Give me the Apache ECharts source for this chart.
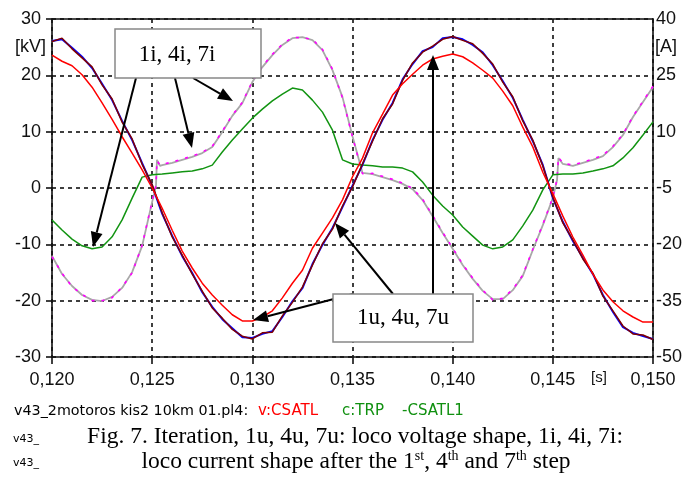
<!DOCTYPE html>
<html><head><meta charset="utf-8">
<script src="https://cdn.jsdelivr.net/npm/echarts@6/dist/echarts.min.js"></script>
<style>html,body{margin:0;padding:0;background:#fff;}#c{width:696px;height:477px;}</style>
</head><body><div id="c"></div>
<script>
// ---- data (time in s, voltage in kV, current in A) ----
const tGrid = [0.1200,0.1205,0.1210,0.1215,0.1220,0.1225,0.1230,0.1235,0.1240,0.1245,
  0.1250,0.1255,0.1260,0.1265,0.1270,0.1275,0.1280,0.1285,0.1290,0.1295,
  0.1300,0.1305,0.1310,0.1315,0.1320,0.1325,0.1330,0.1335,0.1340,0.1345,
  0.1350,0.1355,0.1360,0.1365,0.1370,0.1375,0.1380,0.1385,0.1390,0.1395,
  0.1400,0.1405,0.1410,0.1415,0.1420,0.1425,0.1430,0.1435,0.1440,0.1445,
  0.1450,0.1455,0.1460,0.1465,0.1470,0.1475,0.1480,0.1485,0.1490,0.1495,0.1500];
const tCur = [0.1200,0.1205,0.1210,0.1215,0.1220,0.1225,0.1230,0.1235,0.1240,0.1245,
  0.1250,0.12519,0.12524,0.12539,
  0.1255,0.1260,0.1265,0.1270,0.1275,0.1280,0.1285,0.1290,0.1295,0.1300,
  0.1305,0.1310,0.1315,0.1320,0.1325,0.1330,0.1335,0.1340,0.1345,0.1350,
  0.1355,0.1360,0.1365,0.1370,0.1375,0.1380,0.1385,0.1390,0.1395,0.1400,
  0.1405,0.1410,0.1415,0.1420,0.1425,0.1430,0.1435,0.1440,0.1445,0.1450,
  0.14521,0.14528,
  0.1455,0.1460,0.1465,0.1470,0.1475,0.1480,0.1485,0.1490,0.1495,0.1500];
// voltage 1u / 4u / 7u [kV]
const blueV = [26.1,26.4,24.9,23.3,21.3,18.5,15.6,11.9,8.5,4.4,
  0.4,-4.6,-8.5,-12.1,-15.1,-18.5,-21.1,-23.3,-24.9,-26.5,
  -26.6,-25.9,-25.4,-22.9,-20.1,-17.8,-13.5,-10.1,-7.1,-3.4,
  0.4,4.1,8.5,12.1,15.1,19.3,22.0,24.3,25.0,26.6,
  26.8,26.4,25.4,24.1,21.8,19.0,16.0,12.1,8.3,4.1,
  -1.8,-6.0,-9.4,-12.4,-15.3,-19.0,-22.0,-24.7,-25.7,-26.3,-26.8];
const brownV = [26.0,26.6,24.7,23.1,21.5,18.3,15.8,11.7,8.7,4.2,
  0.6,-4.4,-8.7,-11.9,-15.3,-18.3,-21.3,-23.1,-25.1,-26.3,
  -26.8,-25.7,-25.6,-22.7,-20.3,-17.6,-13.7,-9.9,-7.3,-3.2,
  0.2,4.3,8.3,12.3,14.9,19.1,22.2,24.1,25.2,26.4,
  26.9,26.2,25.6,23.9,22.0,18.8,16.2,11.9,8.5,3.9,
  -1.6,-6.2,-9.2,-12.6,-15.1,-19.2,-21.8,-24.5,-25.9,-26.1,-26.9];
const redV = [23.6,22.5,21.7,20.1,17.9,15.1,12.2,9.1,6.2,3.2,
  0.0,-3.6,-7.5,-11.2,-14.2,-16.9,-19.0,-20.8,-22.5,-23.6,
  -23.6,-22.9,-21.8,-19.5,-16.9,-14.6,-10.7,-8.0,-5.3,-2.1,
  2.0,5.3,9.8,13.1,16.5,18.5,20.2,21.8,22.9,23.4,
  23.8,23.3,22.2,20.9,19.5,17.2,14.6,10.8,7.3,2.8,
  -1.0,-5.0,-8.7,-11.9,-15.3,-18.1,-20.2,-21.8,-22.9,-23.8,-23.8];
// current 1i / 4i / 7i [A]
const grayA = [-23.1,-27.9,-31.1,-33.5,-34.8,-35.1,-34.0,-31.6,-27.4,-20.4,
  -8.7,-4.5,2.5,0.9,
  1.1,1.7,2.5,3.3,4.3,5.9,9.9,14.2,17.6,23.2,
  27.2,30.4,33.1,34.9,35.2,34.4,31.7,26.4,19.2,8.8,
  -1.0,-1.3,-2.1,-2.9,-3.9,-5.3,-8.2,-12.5,-17.0,-21.2,
  -25.5,-29.2,-32.4,-34.6,-34.6,-32.2,-28.4,-21.5,-14.9,-7.7,
  -2.9,3.0,
  1.4,0.9,1.7,2.5,3.5,5.9,9.1,13.9,17.9,21.9];
const magentaA = [-23.3,-27.7,-31.3,-33.3,-35.0,-35.0,-34.2,-31.4,-27.6,-20.2,
  -8.5,-4.3,2.3,1.1,
  1.3,1.9,2.7,3.5,4.5,6.1,10.1,14.4,17.8,23.4,
  27.4,30.6,33.3,35.1,35.0,34.6,31.9,26.6,19.0,8.6,
  -1.2,-1.1,-1.9,-2.7,-3.7,-5.1,-8.0,-12.3,-16.8,-21.0,
  -25.3,-29.0,-32.2,-34.8,-34.4,-32.0,-28.2,-21.3,-14.7,-7.5,
  -2.7,3.2,
  1.6,1.1,1.9,2.7,3.7,6.1,9.3,14.1,18.1,22.1];
const greenA = [-13.5,-16.2,-18.6,-20.4,-21.2,-20.7,-18.0,-13.5,-7.7,-2.1,
  -1.5,-1.3,-1.0,-0.7,-0.5,0.1,1.1,4.6,7.8,10.7,
  13.6,16.0,18.2,20.0,21.6,21.1,18.4,15.2,10.4,2.5,
  1.4,1.1,0.9,0.6,0.6,0.3,-0.7,-3.4,-6.9,-9.8,
  -12.2,-15.4,-17.8,-20.2,-21.2,-20.7,-18.8,-15.1,-10.9,-5.5,
  -1.5,-1.3,-1.3,-1.0,-0.5,0.1,0.9,3.0,5.7,9.1,12.6];
// axis ranges
const xRange = [0.120, 0.150, 0.005];
const vRange = [-30, 30, 10];
const aRange = [-50, 40, 15];
// texts
const legendParts = [
  {text: 'v43_2motoros kis2 10km 01.pl4:', color: '#000'},
  {text: 'v:CSATL', color: '#ff0000'},
  {text: 'c:TRP', color: '#109010'},
  {text: '-CSATL1', color: '#109010'}
];
const captionLine1 = 'Fig. 7. Iteration, 1u, 4u, 7u: loco voltage shape, 1i, 4i, 7i:';
const captionLine2 = 'loco current shape after the 1{sup|st}, 4{sup|th} and 7{sup|th} step';
const box1Text = '1i, 4i, 7i';
const box2Text = '1u, 4u, 7u';

// ---- chart ----
const pairs = (ts, vs) => ts.map((t, i) => [t, vs[i]]);
const sans = "'Liberation Sans',Arial,sans-serif";
const serif = "'Liberation Serif','Times New Roman',serif";
const chart = echarts.init(document.getElementById('c'), null, {renderer: 'canvas'});

const G = {left: 52, top: 19, width: 601, height: 338};
const dash = {color: '#111', width: 1.6, type: [4, 4]};

function arrow(x1, y1, x2, y2) {
  const L = 15, W = 6;
  const dx = x2 - x1, dy = y2 - y1, len = Math.hypot(dx, dy);
  const ux = dx / len, uy = dy / len;
  const bx = x2 - ux * L, by = y2 - uy * L;
  return [
    {type: 'line', z: 100, shape: {x1, y1, x2: bx, y2: by}, style: {stroke: '#000', lineWidth: 2}},
    {type: 'polygon', z: 100, shape: {points: [[x2, y2], [bx - uy * W, by + ux * W], [bx + uy * W, by - ux * W]]}, style: {fill: '#000'}}
  ];
}
const annot = {
  box1: [115, 29, 146, 49], box1TextPos: [177, 55],
  box2: [333, 294, 140, 48], box2TextPos: [403, 318],
  arrows: [[136, 78, 93, 247], [175, 78, 192, 148], [193, 78, 233, 101],
           [353, 294, 253, 320], [393, 294, 335, 223], [433, 294, 433, 55]]
};

const graphics = [];
annot.arrows.forEach(a => graphics.push(...arrow(...a)));
graphics.push({type: 'rect', z: 101, shape: {x: annot.box1[0], y: annot.box1[1], width: annot.box1[2], height: annot.box1[3]}, style: {fill: '#fff', stroke: '#888', lineWidth: 1.5}});
graphics.push({type: 'text', z: 102, x: annot.box1TextPos[0], y: annot.box1TextPos[1], style: {text: box1Text, font: '23px ' + serif, fill: '#000', align: 'center', verticalAlign: 'middle'}});
graphics.push({type: 'rect', z: 101, shape: {x: annot.box2[0], y: annot.box2[1], width: annot.box2[2], height: annot.box2[3]}, style: {fill: '#fff', stroke: '#888', lineWidth: 1.5}});
graphics.push({type: 'text', z: 102, x: annot.box2TextPos[0], y: annot.box2TextPos[1], style: {text: box2Text, font: '23px ' + serif, fill: '#000', align: 'center', verticalAlign: 'middle'}});
// axis unit labels
graphics.push({type: 'text', z: 50, x: 46, y: 47, style: {text: '[kV]', font: '18px ' + sans, fill: '#111', align: 'right', verticalAlign: 'middle'}});
graphics.push({type: 'text', z: 50, x: 655, y: 47, style: {text: '[A]', font: '18px ' + sans, fill: '#111', align: 'left', verticalAlign: 'middle'}});
graphics.push({type: 'text', z: 50, x: 599, y: 378, style: {text: '[s]', font: '15px ' + sans, fill: '#111', align: 'center', verticalAlign: 'middle'}});
// legend row
const legX = [14, 258, 342, 402];
legendParts.forEach((p, i) => graphics.push({type: 'text', z: 50, x: legX[i], y: 411, style: {text: p.text, font: (i === 0 ? '14.3px' : '15px') + ' "DejaVu Sans",sans-serif', fill: p.color, align: 'left', verticalAlign: 'middle'}}));
// remnants + caption
graphics.push({type: 'text', z: 50, x: 13, y: 439, style: {text: 'v43_', font: '11px "DejaVu Sans",sans-serif', fill: '#000', align: 'left', verticalAlign: 'middle'}});
graphics.push({type: 'text', z: 50, x: 13, y: 463, style: {text: 'v43_', font: '11px "DejaVu Sans",sans-serif', fill: '#000', align: 'left', verticalAlign: 'middle'}});
graphics.push({type: 'text', z: 50, x: 355, y: 437, style: {text: captionLine1, font: '23.5px ' + serif, fill: '#000', align: 'center', verticalAlign: 'middle'}});
graphics.push({type: 'text', z: 50, x: 356, y: 462, style: {text: captionLine2, font: '23.5px ' + serif, fill: '#000', align: 'center', verticalAlign: 'middle',
  rich: {sup: {fontSize: 14, fontFamily: 'Liberation Serif', verticalAlign: 'top', lineHeight: 26}}}});

const lineSeries = (name, data, color, width, yIdx, extra) => Object.assign({
  name, type: 'line', data, yAxisIndex: yIdx, showSymbol: false, symbol: 'none',
  lineStyle: {color, width}, itemStyle: {color}, animation: false, silent: true, clip: true
}, extra || {});

chart.setOption({
  animation: false,
  backgroundColor: '#fff',
  grid: {left: G.left, top: G.top, width: G.width, height: G.height, containLabel: false},
  xAxis: [{
    type: 'value', min: xRange[0], max: xRange[1], interval: xRange[2],
    axisLine: {show: true, onZero: false, lineStyle: {color: '#111', width: 1.6}},
    axisTick: {show: true, length: 7, lineStyle: {color: '#111', width: 1.6}},
    axisLabel: {margin: 14, color: '#111', fontSize: 18, fontFamily: sans,
      formatter: v => v.toFixed(3).replace('.', ',')},
    splitLine: {show: true, lineStyle: dash}
  }, {
    type: 'value', position: 'top', min: xRange[0], max: xRange[1],
    axisLine: {show: true, onZero: false, lineStyle: {color: '#111', width: 1.6}},
    axisTick: {show: false}, axisLabel: {show: false}, splitLine: {show: false}
  }],
  yAxis: [{
    type: 'value', min: vRange[0], max: vRange[1], interval: vRange[2],
    axisLine: {show: true, onZero: false, lineStyle: {color: '#111', width: 1.6}},
    axisTick: {show: true, length: 6, lineStyle: {color: '#111', width: 1.6}},
    axisLabel: {margin: 11, color: '#111', fontSize: 18, fontFamily: sans},
    splitLine: {show: true, lineStyle: dash}
  }, {
    type: 'value', position: 'right', min: aRange[0], max: aRange[1], interval: aRange[2],
    axisLine: {show: true, onZero: false, lineStyle: {color: '#111', width: 1.6}},
    axisTick: {show: false},
    axisLabel: {margin: 3, color: '#111', fontSize: 18, fontFamily: sans},
    splitLine: {show: false}
  }],
  series: [
    lineSeries('1i gray', pairs(tCur, grayA), '#a8a8a8', 1.8, 1),
    lineSeries('1i magenta', pairs(tCur, magentaA), '#ff00ff', 1.6, 1, {lineStyle: {color: '#ff00ff', width: 1.6, type: [3, 7]}}),
    lineSeries('7i green', pairs(tGrid, greenA), '#129412', 1.5, 1),
    lineSeries('u blue', pairs(tGrid, blueV), '#0000ff', 1.9, 0),
    lineSeries('u brown', pairs(tGrid, brownV), '#800000', 1.5, 0),
    lineSeries('u red', pairs(tGrid, redV), '#ff0000', 1.5, 0)
  ],
  graphic: graphics
});
</script>
</body></html>
